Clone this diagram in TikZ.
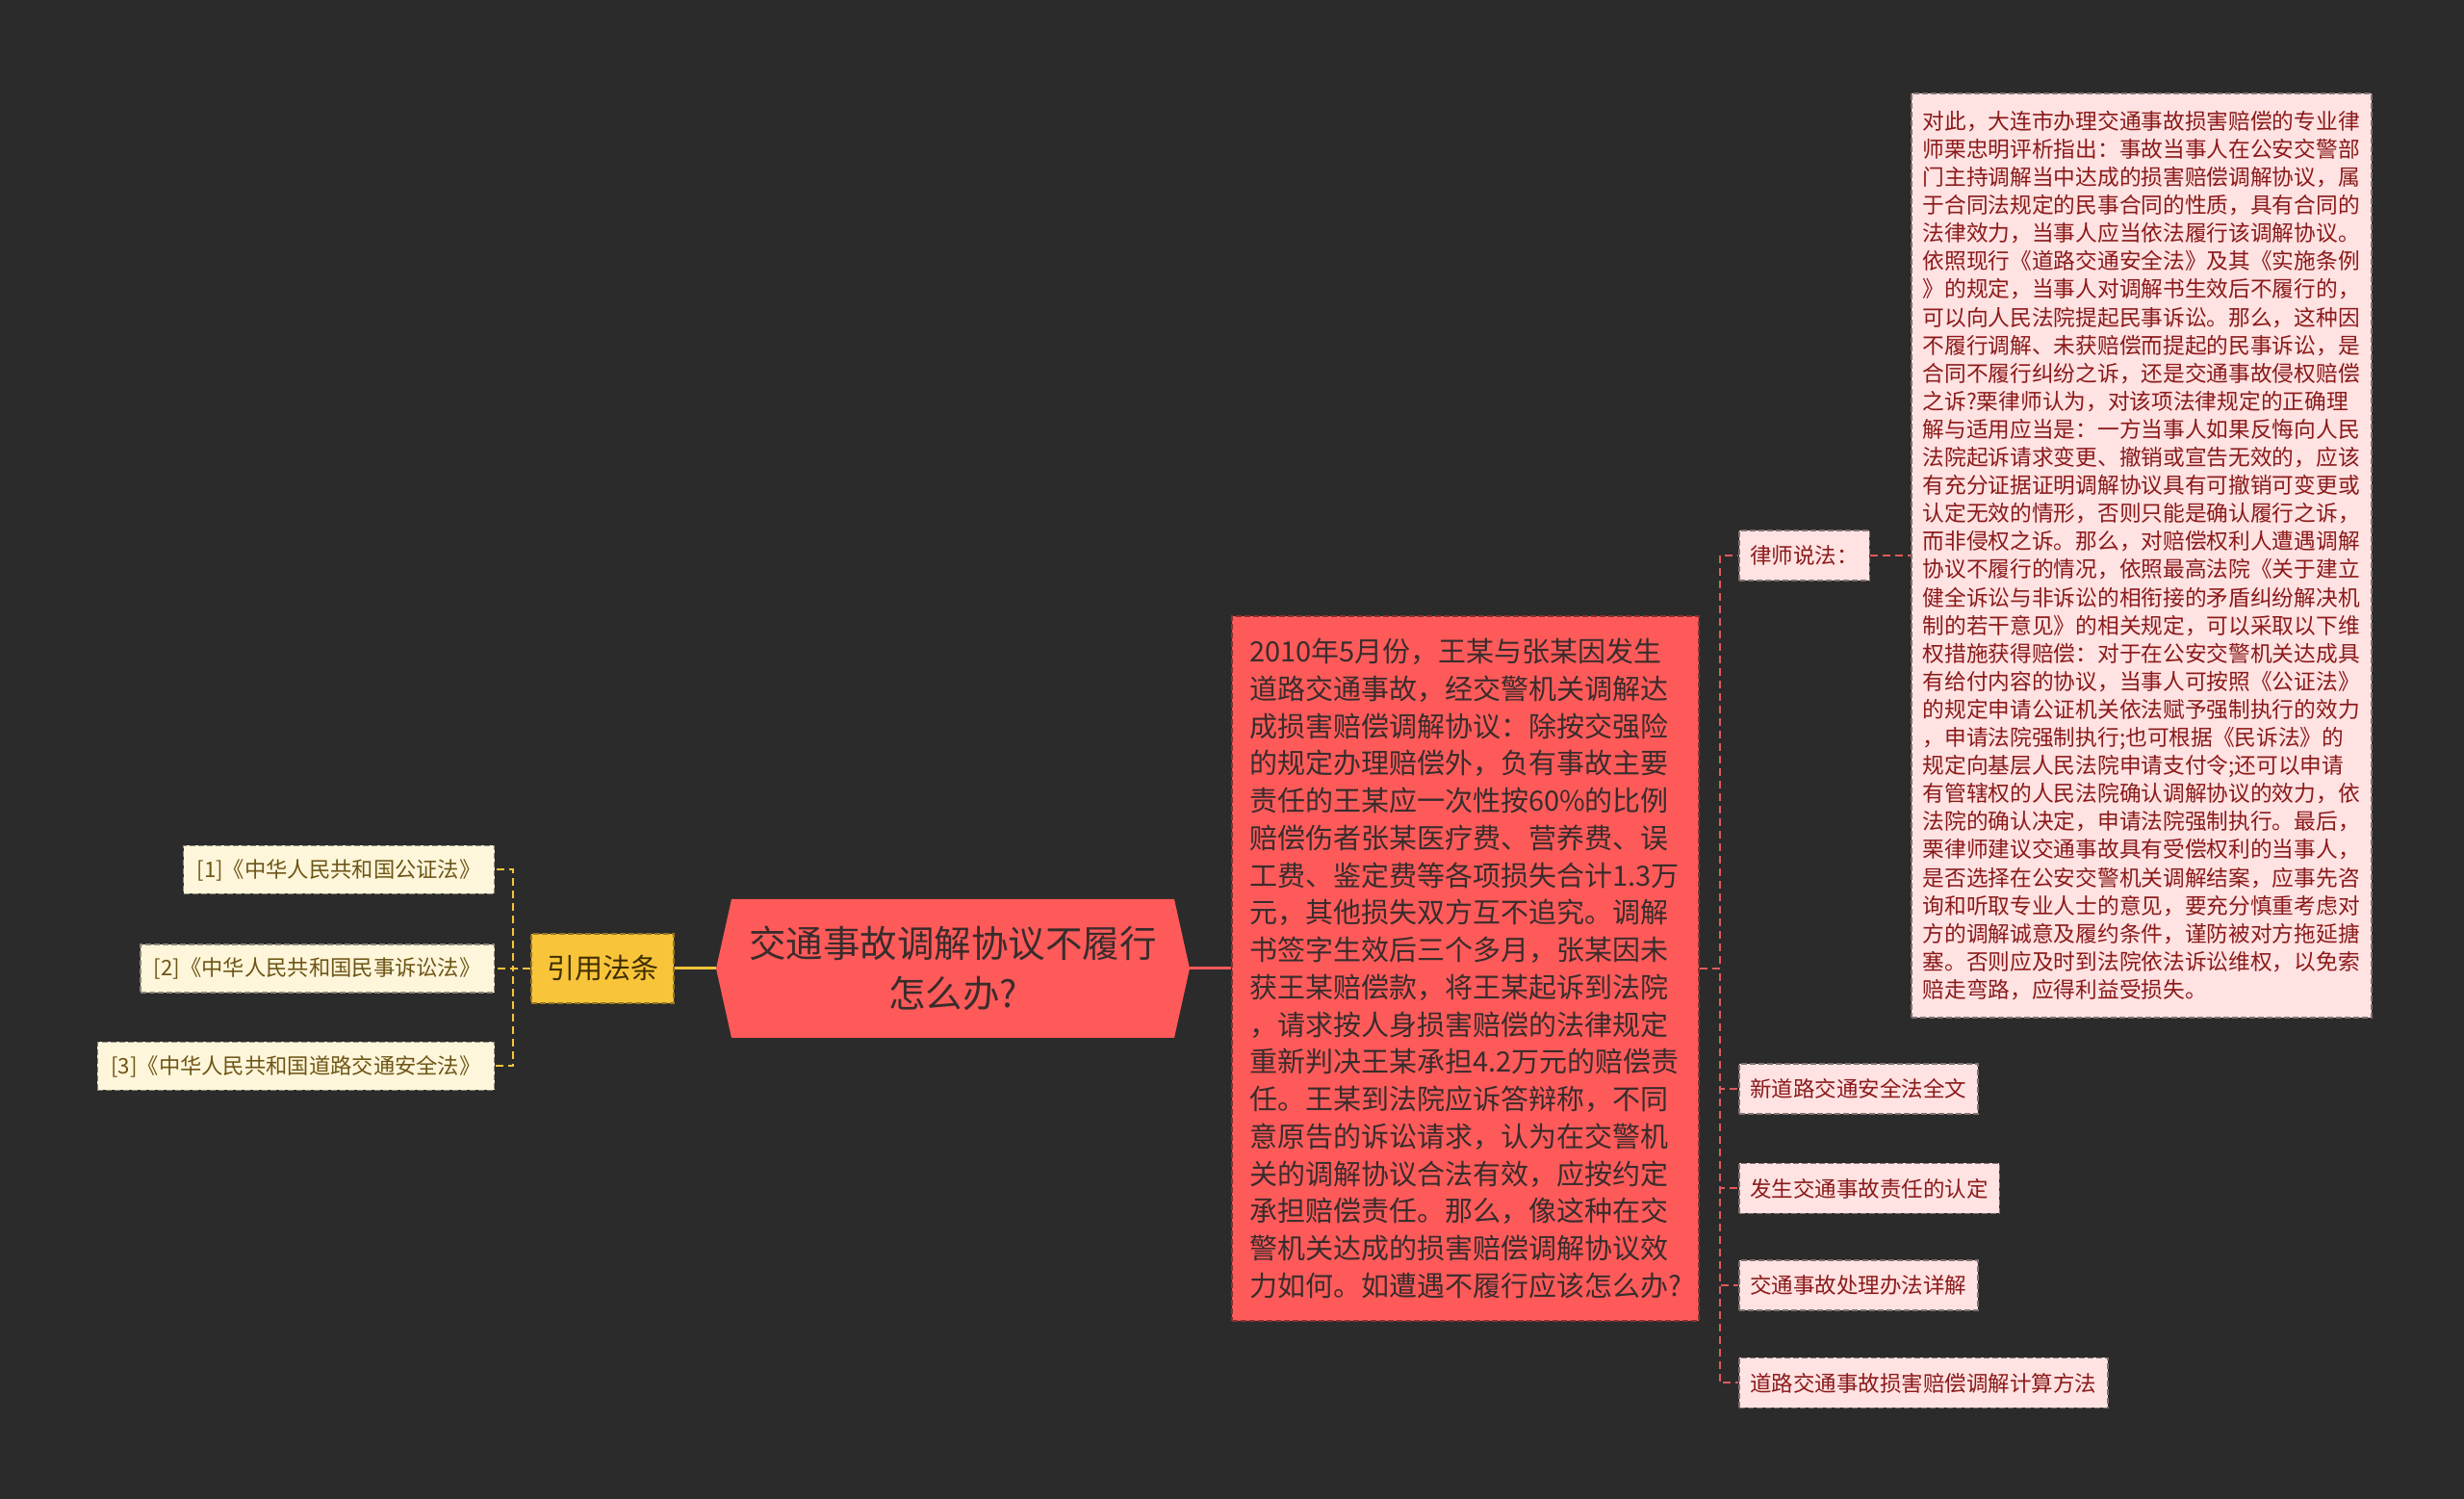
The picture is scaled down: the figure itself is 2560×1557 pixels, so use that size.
\documentclass[tikz,border=0pt]{standalone}
\usepackage{fontspec}
\setmainfont{Noto Sans CJK SC}
\usetikzlibrary{positioning}
\definecolor{bgdark}{HTML}{2B2B2B}
\definecolor{rootred}{HTML}{FF5A5A}
\definecolor{inkdark}{HTML}{3A2C2C}
\definecolor{lawgold}{HTML}{F8C43A}
\definecolor{lawink}{HTML}{3F2E00}
\definecolor{leafcream}{HTML}{FEF6DA}
\definecolor{leafink}{HTML}{6E5516}
\definecolor{pinkfill}{HTML}{FFE2E2}
\definecolor{pinkink}{HTML}{8B1A1A}
\definecolor{redlink}{HTML}{E05A5A}
\tikzset{x=1pt, y=1pt, % one unit is one pixel of the reference
every node/.style={inner sep=0pt},
boxline/.style={line width=1.5pt, dash pattern=on 6pt off 3pt}, % dashed frame of the boxes
hexa/.style={fill=bgdark, minimum width=492pt, minimum height=144pt, align=center, text=inkdark,
  font=\fontsize{38.5pt}{52pt}\selectfont,
  path picture={\fill[rootred] (path picture bounding box.west)
    -- ([xshift=16pt]path picture bounding box.north west)
    -- ([xshift=-16pt]path picture bounding box.north east)
    -- (path picture bounding box.east)
    -- ([xshift=-16pt]path picture bounding box.south east)
    -- ([xshift=16pt]path picture bounding box.south west) -- cycle;}},
lawbox/.style={boxline, fill=lawgold, draw=lawgold!60!black, minimum width=148pt, minimum height=72pt,
  text=lawink, font=\fontsize{29pt}{34pt}\selectfont},
lawleaf/.style={boxline, fill=leafcream, draw=leafcream!55!black, minimum height=50pt, inner xsep=14pt,
  text=leafink, font=\fontsize{22.3pt}{27pt}\selectfont},
contentbox/.style={boxline, fill=rootred, draw=rootred!55!black, minimum width=485pt, minimum height=732pt,
  align=left, text=inkdark, font=\fontsize{29pt}{38.75pt}\selectfont},
pinkleaf/.style={boxline, fill=pinkfill, draw=pinkfill!50!black, minimum height=52pt, inner xsep=11.5pt,
  text=pinkink, font=\fontsize{22.5pt}{27pt}\selectfont},
notebox/.style={boxline, fill=pinkfill, draw=pinkfill!50!black, minimum width=478pt, minimum height=960pt,
  align=left, text=pinkink, font=\fontsize{22.7pt}{29.1pt}\selectfont},
rootlink/.style={draw=#1, line width=3pt}, % solid line out of the root
lawlink/.style={draw=lawgold, line width=2pt, dash pattern=on 8pt off 5pt},
sublink/.style={draw=redlink, line width=2pt, dash pattern=on 8pt off 5pt},
}
\begin{document}
\begin{tikzpicture}
  \fill[bgdark] (0,0) rectangle (2560,1557);

  \node[hexa] (root) at (990,551) {交通事故调解协议不履行\\怎么办?};

  % left branch
  \node[lawbox, left=43pt of root] (law) {引用法条};
  \node[lawleaf, left=37pt of law] (l2) {[2]《中华人民共和国民事诉讼法》};
  \node[lawleaf, above=51pt of l2.north east, anchor=south east] (l1) {[1]《中华人民共和国公证法》};
  \node[lawleaf, below=50pt of l2.south east, anchor=north east] (l3) {[3]《中华人民共和国道路交通安全法》};

  % right branch
  \node[contentbox, right=43pt of root] (content) {2010年5月份，王某与张某因发生\\道路交通事故，经交警机关调解达\\成损害赔偿调解协议：除按交强险\\的规定办理赔偿外，负有事故主要\\责任的王某应一次性按60\%的比例\\赔偿伤者张某医疗费、营养费、误\\工费、鉴定费等各项损失合计1.3万\\元，其他损失双方互不追究。调解\\书签字生效后三个多月，张某因未\\获王某赔偿款，将王某起诉到法院\\，请求按人身损害赔偿的法律规定\\重新判决王某承担4.2万元的赔偿责\\任。王某到法院应诉答辩称，不同\\意原告的诉讼请求，认为在交警机\\关的调解协议合法有效，应按约定\\承担赔偿责任。那么，像这种在交\\警机关达成的损害赔偿调解协议效\\力如何。如遭遇不履行应该怎么办?};

  \node[pinkleaf, anchor=west] (lawyer) at (1806,980) {律师说法：};
  \node[notebox, right=42pt of lawyer] (note) {对此，大连市办理交通事故损害赔偿的专业律\\师栗忠明评析指出：事故当事人在公安交警部\\门主持调解当中达成的损害赔偿调解协议，属\\于合同法规定的民事合同的性质，具有合同的\\法律效力，当事人应当依法履行该调解协议。\\依照现行《道路交通安全法》及其《实施条例\\》的规定，当事人对调解书生效后不履行的，\\可以向人民法院提起民事诉讼。那么，这种因\\不履行调解、未获赔偿而提起的民事诉讼，是\\合同不履行纠纷之诉，还是交通事故侵权赔偿\\之诉?栗律师认为，对该项法律规定的正确理\\解与适用应当是：一方当事人如果反悔向人民\\法院起诉请求变更、撤销或宣告无效的，应该\\有充分证据证明调解协议具有可撤销可变更或\\认定无效的情形，否则只能是确认履行之诉，\\而非侵权之诉。那么，对赔偿权利人遭遇调解\\协议不履行的情况，依照最高法院《关于建立\\健全诉讼与非诉讼的相衔接的矛盾纠纷解决机\\制的若干意见》的相关规定，可以采取以下维\\权措施获得赔偿：对于在公安交警机关达成具\\有给付内容的协议，当事人可按照《公证法》\\的规定申请公证机关依法赋予强制执行的效力\\，申请法院强制执行;也可根据《民诉法》的\\规定向基层人民法院申请支付令;还可以申请\\有管辖权的人民法院确认调解协议的效力，依\\法院的确认决定，申请法院强制执行。最后，\\栗律师建议交通事故具有受偿权利的当事人，\\是否选择在公安交警机关调解结案，应事先咨\\询和听取专业人士的意见，要充分慎重考虑对\\方的调解诚意及履约条件，谨防被对方拖延搪\\塞。否则应及时到法院依法诉讼维权，以免索\\赔走弯路，应得利益受损失。};

  \node[pinkleaf, anchor=west] (r1) at (1806,426) {新道路交通安全法全文};
  \node[pinkleaf, below=50pt of r1.south west, anchor=north west] (r2) {发生交通事故责任的认定};
  \node[pinkleaf, below=47pt of r2.south west, anchor=north west] (r3) {交通事故处理办法详解};
  \node[pinkleaf, below=48pt of r3.south west, anchor=north west] (r4) {道路交通事故损害赔偿调解计算方法};

  % connectors
  \draw[rootlink=lawgold] (root.west) -- (law.east);
  \draw[lawlink] (law.west) -- ++(-18,0) |- (l1.east);
  \draw[lawlink] (law.west) -- (l2.east);
  \draw[lawlink] (law.west) -- ++(-18,0) |- (l3.east);

  \draw[rootlink=rootred] (root.east) -- (content.west);
  \draw[sublink] (content.east) -- ++(21,0) |- (lawyer.west);
  \draw[sublink] (content.east) -- ++(21,0) |- (r1.west);
  \draw[sublink] (content.east) -- ++(21,0) |- (r2.west);
  \draw[sublink] (content.east) -- ++(21,0) |- (r3.west);
  \draw[sublink] (content.east) -- ++(21,0) |- (r4.west);
  \draw[sublink] (lawyer.east) -- (note.west);
\end{tikzpicture}
\end{document}
